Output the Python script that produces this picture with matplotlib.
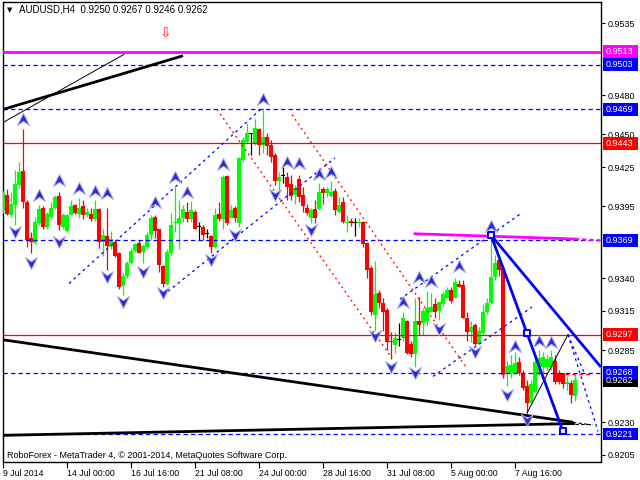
import matplotlib
matplotlib.use("Agg")
import matplotlib.pyplot as plt
import numpy as np
from matplotlib.path import Path
from matplotlib.patches import Rectangle

# AUDUSD H4 candles (one per bar, left to right)
opens = [0.9392, 0.9404, 0.9388, 0.9396, 0.9411, 0.9422, 0.9398, 0.9371, 0.9367, 0.9382,
         0.9394, 0.9379, 0.9387, 0.9394, 0.9403, 0.9379, 0.9376, 0.9388, 0.9396, 0.9389,
         0.9395, 0.9388, 0.9389, 0.9385, 0.9393, 0.9368, 0.9372, 0.9364, 0.9368, 0.9359,
         0.9334, 0.9342, 0.9352, 0.9361, 0.9367, 0.9360, 0.9364, 0.9373, 0.9387, 0.9378,
         0.9349, 0.9336, 0.9359, 0.9382, 0.9382, 0.9386, 0.9391, 0.9385, 0.9391, 0.9379,
         0.9379, 0.9374, 0.9372, 0.9364, 0.9389, 0.9385, 0.9418, 0.9386, 0.9394, 0.9382,
         0.9430, 0.9444, 0.9450, 0.9443, 0.9454, 0.9442, 0.9448, 0.9442, 0.9434, 0.9414,
         0.9418, 0.9417, 0.9412, 0.9404, 0.9416, 0.9404, 0.9394, 0.9386, 0.9393, 0.9393,
         0.9408, 0.9405, 0.9403, 0.9407, 0.9391, 0.9398, 0.9382, 0.9384, 0.9382, 0.9382,
         0.9383, 0.9367, 0.9348, 0.9312, 0.9329, 0.9321, 0.9316, 0.9292, 0.9289, 0.9293,
         0.9294, 0.9307, 0.9290, 0.9282, 0.9307, 0.9306, 0.9307, 0.9314, 0.9320, 0.9315,
         0.9320, 0.9325, 0.9331, 0.9325, 0.9336, 0.9335, 0.9310, 0.9299, 0.9304, 0.9290,
         0.9298, 0.9314, 0.9321, 0.9341, 0.9354, 0.9348, 0.9267, 0.9268, 0.9268, 0.9276,
         0.9268, 0.9258, 0.9245, 0.9253, 0.9268, 0.9272, 0.9272, 0.9272, 0.9277, 0.9268,
         0.9268, 0.9259, 0.9260, 0.9250]
highs = [0.9407, 0.9408, 0.9406, 0.9423, 0.9429, 0.9454, 0.9400, 0.9375, 0.9387, 0.9396,
         0.9395, 0.9391, 0.9398, 0.9404, 0.9406, 0.9390, 0.9389, 0.9400, 0.9397, 0.9401,
         0.9400, 0.9394, 0.9394, 0.9400, 0.9394, 0.9378, 0.9394, 0.9376, 0.9369, 0.9360,
         0.9344, 0.9353, 0.9363, 0.9367, 0.9369, 0.9366, 0.9375, 0.9388, 0.9388, 0.9378,
         0.9350, 0.9362, 0.9390, 0.9410, 0.9400, 0.9396, 0.9398, 0.9399, 0.9392, 0.9383,
         0.9381, 0.9378, 0.9373, 0.9394, 0.9398, 0.9419, 0.9419, 0.9396, 0.9395, 0.9433,
         0.9448, 0.9459, 0.9451, 0.9462, 0.9455, 0.9470, 0.9451, 0.9446, 0.9436, 0.9421,
         0.9425, 0.9421, 0.9419, 0.9411, 0.9419, 0.9410, 0.9397, 0.9394, 0.9400, 0.9413,
         0.9410, 0.9410, 0.9414, 0.9409, 0.9402, 0.9402, 0.9388, 0.9386, 0.9386, 0.9386,
         0.9384, 0.9368, 0.9349, 0.9353, 0.9331, 0.9325, 0.9317, 0.9299, 0.9299, 0.9306,
         0.9314, 0.9308, 0.9292, 0.9325, 0.9326, 0.9317, 0.9330, 0.9329, 0.9325, 0.9322,
         0.9330, 0.9333, 0.9333, 0.9340, 0.9339, 0.9339, 0.9314, 0.9307, 0.9306, 0.9303,
         0.9320, 0.9325, 0.9374, 0.9358, 0.9356, 0.9350, 0.9277, 0.9281, 0.9284, 0.9280,
         0.9270, 0.9262, 0.9262, 0.9281, 0.9285, 0.9284, 0.9281, 0.9285, 0.9281, 0.9270,
         0.9268, 0.9265, 0.9262, 0.9267]
lows = [0.9390, 0.9388, 0.9387, 0.9381, 0.9409, 0.9394, 0.9364, 0.9359, 0.9366, 0.9381,
        0.9378, 0.9378, 0.9385, 0.9393, 0.9377, 0.9378, 0.9375, 0.9388, 0.9389, 0.9386,
        0.9385, 0.9387, 0.9384, 0.9384, 0.9363, 0.9357, 0.9346, 0.9362, 0.9356, 0.9332,
        0.9327, 0.9340, 0.9351, 0.9360, 0.9359, 0.9352, 0.9362, 0.9369, 0.9371, 0.9345,
        0.9333, 0.9335, 0.9358, 0.9375, 0.9362, 0.9383, 0.9383, 0.9383, 0.9378, 0.9369,
        0.9369, 0.9371, 0.9359, 0.9363, 0.9384, 0.9378, 0.9381, 0.9386, 0.9383, 0.9379,
        0.9429, 0.9443, 0.9434, 0.9442, 0.9434, 0.9436, 0.9434, 0.9429, 0.9411, 0.9407,
        0.9413, 0.9400, 0.9400, 0.9397, 0.9398, 0.9391, 0.9388, 0.9382, 0.9382, 0.9392,
        0.9397, 0.9402, 0.9402, 0.9388, 0.9390, 0.9382, 0.9375, 0.9380, 0.9372, 0.9379,
        0.9364, 0.9340, 0.9312, 0.9300, 0.9317, 0.9300, 0.9285, 0.9278, 0.9283, 0.9288,
        0.9292, 0.9282, 0.9280, 0.9272, 0.9297, 0.9297, 0.9304, 0.9314, 0.9310, 0.9308,
        0.9319, 0.9325, 0.9321, 0.9325, 0.9333, 0.9310, 0.9292, 0.9291, 0.9289, 0.9290,
        0.9297, 0.9313, 0.9320, 0.9339, 0.9342, 0.9264, 0.9258, 0.9264, 0.9267, 0.9266,
        0.9255, 0.9237, 0.9244, 0.9252, 0.9266, 0.9268, 0.9270, 0.9270, 0.9259, 0.9259,
        0.9256, 0.9255, 0.9245, 0.9246]
closes = [0.9405, 0.9389, 0.9397, 0.9412, 0.9421, 0.9398, 0.9369, 0.9368, 0.9383, 0.9393,
          0.9379, 0.9389, 0.9394, 0.9402, 0.9381, 0.9388, 0.9388, 0.9395, 0.9390, 0.9394,
          0.9388, 0.9391, 0.9385, 0.9393, 0.9368, 0.9373, 0.9365, 0.9370, 0.9357, 0.9333,
          0.9342, 0.9352, 0.9361, 0.9366, 0.9359, 0.9365, 0.9373, 0.9386, 0.9376, 0.9350,
          0.9336, 0.9360, 0.9381, 0.9383, 0.9386, 0.9393, 0.9385, 0.9392, 0.9378, 0.9379,
          0.9373, 0.9374, 0.9364, 0.9388, 0.9385, 0.9417, 0.9382, 0.9392, 0.9386, 0.9432,
          0.9446, 0.9451, 0.9450, 0.9455, 0.9442, 0.9448, 0.9441, 0.9433, 0.9414, 0.9417,
          0.9418, 0.9410, 0.9403, 0.9409, 0.9402, 0.9395, 0.9390, 0.9392, 0.9386, 0.9406,
          0.9405, 0.9408, 0.9406, 0.9392, 0.9396, 0.9383, 0.9383, 0.9382, 0.9382, 0.9383,
          0.9366, 0.9346, 0.9314, 0.9328, 0.9321, 0.9314, 0.9291, 0.9291, 0.9294, 0.9293,
          0.9310, 0.9283, 0.9282, 0.9307, 0.9304, 0.9315, 0.9317, 0.9318, 0.9314, 0.9322,
          0.9328, 0.9331, 0.9323, 0.9337, 0.9333, 0.9310, 0.9299, 0.9303, 0.9290, 0.9300,
          0.9314, 0.9321, 0.9341, 0.9352, 0.9346, 0.9266, 0.9273, 0.9274, 0.9275, 0.9268,
          0.9256, 0.9245, 0.9259, 0.9276, 0.9279, 0.9280, 0.9278, 0.9280, 0.9261, 0.9261,
          0.9259, 0.9261, 0.9251, 0.9262]

# fractal arrows: bar index and price
up_frac_bars = [5, 9, 14, 19, 23, 26, 38, 43, 46, 55, 65, 71, 74, 79, 82, 100, 104, 107, 114, 122, 128, 134, 137]
up_frac_prices = [0.9462, 0.9404, 0.9415, 0.9409, 0.9407, 0.9405, 0.9398, 0.9417, 0.9406, 0.9427, 0.9477, 0.9429,
                  0.9428, 0.9420, 0.9421, 0.9322, 0.9341, 0.9338, 0.9349, 0.9380, 0.9288, 0.9292, 0.9291]
dn_frac_bars = [3, 7, 14, 26, 30, 35, 40, 52, 58, 68, 77, 93, 97, 103, 109, 118, 126, 131]
dn_frac_prices = [0.9375, 0.9352, 0.9368, 0.9341, 0.9322, 0.9345, 0.9329, 0.9354, 0.9373, 0.9404, 0.9377, 0.9296,
                  0.9272, 0.9268, 0.9301, 0.9284, 0.9251, 0.9232]

# horizontal levels with their price tags
levels = [0.9513, 0.9503, 0.9469, 0.9443, 0.9369, 0.9297, 0.9268, 0.9221]
level_colors = ["#ff00ff", "#0000ff", "#0000ff", "#ff0000", "#0000ff", "#ff0000", "#0000ff", "#0000ff"]
bid = 0.9262

# drawn objects: (bar0, price0, bar1, price1)
black_thick = [(0, 0.9469, 45, 0.9510), (0, 0.9293, 142.5, 0.9230), (0, 0.9220, 143, 0.9229)]
black_thin = [(0, 0.9459, 30.2, 0.9511), (131, 0.9237, 141.25, 0.9297)]
black_dash = [(142.5, 0.9230, 147, 0.9228), (143, 0.9229, 147.3, 0.9229)]
red_dotted = [(53.5, 0.9469, 97.25, 0.9279), (72.25, 0.9465, 116, 0.9271)]
blue_channels = [(16.5, 0.9336, 64.75, 0.9470), (40, 0.9327, 83, 0.9432),
                 (107.5, 0.9265, 132.25, 0.9318), (99.25, 0.9324, 129.25, 0.9389),
                 (141.25, 0.9297, 148.75, 0.9223), (141.25, 0.9297, 145.25, 0.9268)]
blue_fan = [(122, 0.9373, 140, 0.9223), (122, 0.9373, 149.25, 0.9273)]
fan_bars = [122, 131, 140]
fan_prices = [0.9373, 0.9298, 0.9223]
magenta_slope = (103, 0.9374, 143, 0.9370, 149.3, 0.9369)
red_short = (138.75, 147.25, 0.9267)

xtick_bars = [0, 16, 32, 48, 64, 80, 96, 112, 128]
xtick_labels = ["9 Jul 2014", "14 Jul 00:00", "16 Jul 16:00", "21 Jul 08:00", "24 Jul 00:00",
                "28 Jul 16:00", "31 Jul 08:00", "5 Aug 00:00", "7 Aug 16:00"]
ytick_vals = [0.9535, 0.9480, 0.9450, 0.9425, 0.9395, 0.9340, 0.9315, 0.9285, 0.9230, 0.9205]

FONT = "Liberation Sans"
plt.rcParams["font.family"] = [FONT, "DejaVu Sans"]

fig = plt.figure(figsize=(6.4, 4.8), dpi=100)
ax = fig.add_axes([2.5 / 640, 18.5 / 480, 598 / 640, 459 / 480])
ax.set_xlim(-0.125, 149.375)
ax.set_ylim(0.92000, 0.95507)

o = np.array(opens); h = np.array(highs); l = np.array(lows); c = np.array(closes)
x = np.arange(len(o))
cols = np.where(c > o, "#00ff00", np.where(c < o, "#ff0000", "#000000"))
ax.vlines(x, l, h, colors=cols, lw=0.9, zorder=3)
ax.bar(x, np.maximum(np.abs(c - o), 0.00008), bottom=np.minimum(o, c), width=0.78,
       color=cols, lw=0, zorder=3)

# horizontal lines
for lv, col in zip(levels, level_colors):
    if col == "#0000ff":
        ax.axhline(lv, color=col, lw=0.9, ls=(0, (3.5, 2.5)), zorder=4)
    elif col == "#ff00ff":
        ax.axhline(lv, color=col, lw=2.0, zorder=4)
    else:
        ax.axhline(lv, color=col, lw=0.9, zorder=4)

for x0, y0, x1, y1 in black_thick:
    ax.plot([x0, x1], [y0, y1], color="black", lw=2.0, zorder=4, solid_capstyle="butt")
for x0, y0, x1, y1 in black_thin:
    ax.plot([x0, x1], [y0, y1], color="black", lw=0.7, zorder=4)
for x0, y0, x1, y1 in black_dash:
    ax.plot([x0, x1], [y0, y1], color="black", lw=0.8, ls=(0, (3, 2)), zorder=4)
for x0, y0, x1, y1 in red_dotted:
    ax.plot([x0, x1], [y0, y1], color="#ff0000", lw=1.0, ls=(0, (1.3, 2.6)), zorder=4)
for x0, y0, x1, y1 in blue_channels:
    ax.plot([x0, x1], [y0, y1], color="#0000ff", lw=0.9, ls=(0, (2.2, 2.8)), zorder=4)
for x0, y0, x1, y1 in blue_fan:
    ax.plot([x0, x1], [y0, y1], color="#0000ff", lw=2.0, zorder=5)
ax.scatter(fan_bars, fan_prices, marker="s", s=22, facecolor="white", edgecolor="#0000ff",
           lw=1.5, zorder=6)

mx0, my0, mx1, my1, mx2, my2 = magenta_slope
ax.plot([mx0, mx1], [my0, my1], color="#ff00ff", lw=2.0, zorder=4)
ax.plot([mx1, mx2], [my1, my2], color="#ff00ff", lw=1.5, ls=(0, (2, 1.5)), zorder=4)
ax.plot([red_short[0], red_short[1]], [red_short[2]] * 2, color="#ff0000", lw=0.9,
        ls=(0, (3, 2.5)), zorder=4)

# fractal arrows
up_arrow = Path([(0, 0.5), (0.5, -0.5), (0, -0.15), (-0.5, -0.5), (0, 0.5)],
                [Path.MOVETO, Path.LINETO, Path.LINETO, Path.LINETO, Path.CLOSEPOLY])
dn_arrow = Path([(0, -0.5), (0.5, 0.5), (0, 0.15), (-0.5, 0.5), (0, -0.5)],
                [Path.MOVETO, Path.LINETO, Path.LINETO, Path.LINETO, Path.CLOSEPOLY])
ax.scatter(up_frac_bars, up_frac_prices, marker=up_arrow, s=75, facecolor="#2a2ad8",
           edgecolor="#a8a8f0", lw=0.7, zorder=6)
ax.scatter(dn_frac_bars, dn_frac_prices, marker=dn_arrow, s=75, facecolor="#2a2ad8",
           edgecolor="#a8a8f0", lw=0.7, zorder=6)

ax.text(40.5, 0.9528, "\u21e9", color="#ff2020", fontsize=10, ha="center", va="center",
        family="DejaVu Sans", zorder=6)

# axes look
for sp in ax.spines.values():
    sp.set_color("black")
    sp.set_linewidth(1.0)
ax.yaxis.tick_right()
ax.set_yticks(ytick_vals)
ax.set_yticklabels([f"{v:.4f}" for v in ytick_vals], fontsize=6.5)
ax.tick_params(axis="y", direction="out", length=3, width=0.8, pad=2)
ax.set_xticks(xtick_bars)
ax.set_xticklabels(xtick_labels, fontsize=6.3, ha="left")
ax.tick_params(axis="x", direction="out", length=4, width=0.8, pad=1.5)

# price tags on the right
ytrans = ax.get_yaxis_transform()
tag_h = 0.00099
tags = [(bid, "#000000")] + list(zip(levels, level_colors))
for val, col in tags:
    ax.add_patch(Rectangle((1.0042, val - tag_h / 2), 0.0585, tag_h, transform=ytrans,
                           facecolor=col, edgecolor="none", clip_on=False, zorder=7))
    ax.text(1.0085, val, f"{val:.4f}", transform=ytrans, color="white", fontsize=6.5,
            ha="left", va="center", clip_on=False, zorder=8)

fig.text(7 / 640, 1 - 10 / 480, "\u25bc", fontsize=5, va="center", family="DejaVu Sans")
fig.text(19 / 640, 1 - 10 / 480, "AUDUSD,H4  0.9250 0.9267 0.9246 0.9262", fontsize=7, va="center")
fig.text(7 / 640, 1 - 456 / 480, "RoboForex - MetaTrader 4, \u00a9 2001-2014, MetaQuotes Software Corp.",
         fontsize=6.5, va="center")

fig.savefig("out.png", dpi=100)
